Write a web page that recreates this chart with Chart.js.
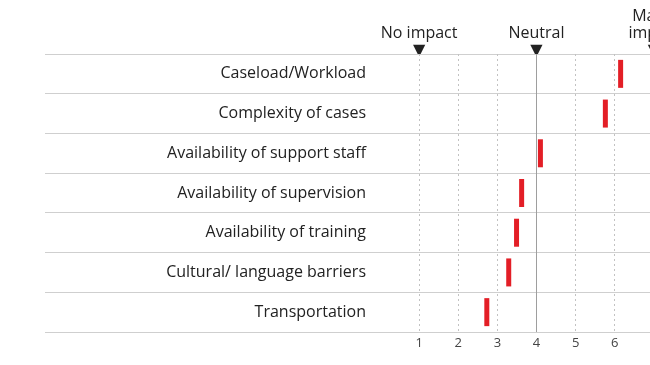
<!DOCTYPE html>
<html>
<head>
<meta charset="utf-8">
<script src="https://cdn.jsdelivr.net/npm/chart.js@4.4.0/dist/chart.umd.min.js"></script>
<style>
html, body { margin: 0; padding: 0; background: #fff; overflow: hidden; }
#wrap { position: relative; width: 712px; height: 365px; }
</style>
</head>
<body>
<div id="wrap"><canvas id="chartImpact"></canvas></div>
<script>
var categories = ['Caseload/Workload', 'Complexity of cases', 'Availability of support staff',
    'Availability of supervision', 'Availability of training', 'Cultural/ language barriers', 'Transportation'];
var scores = [6.15, 5.76, 4.10, 3.62, 3.49, 3.29, 2.73];
var scaleTicks = [1, 2, 3, 4, 5, 6];
var markValues = [1, 4, 7];
var markLabels = [['No impact'], ['Neutral'], ['Major', 'impact']];

var fontFamily = "'Open Sans', 'DejaVu Sans', sans-serif";

function topLabel(v) {
    var i = markValues.indexOf(v);
    if (i < 0) return '';
    return markLabels[i].concat(['\u25BC']);
}

var chart = new Chart(document.getElementById('chartImpact'), {
    type: 'line',
    data: {
        labels: categories,
        datasets: [{
            data: scores,
            showLine: false,
            pointStyle: 'line',
            pointRotation: 90,
            pointRadius: 14,
            pointHoverRadius: 14,
            pointBorderWidth: 5,
            pointHoverBorderWidth: 5,
            pointBorderColor: '#e31e26',
            pointBackgroundColor: '#e31e26',
            xAxisID: 'x',
            yAxisID: 'y'
        }]
    },
    options: {
        indexAxis: 'y',
        responsive: true,
        maintainAspectRatio: false,
        animation: false,
        layout: { padding: 0 },
        plugins: { legend: { display: false }, tooltip: { enabled: false } },
        scales: {
            y: {
                type: 'category',
                offset: true,
                afterFit: function (s) { s.width = 380; },
                grid: { offset: true, color: '#cfcfcf', lineWidth: 1, drawTicks: true, tickLength: 335 },
                border: { display: false },
                ticks: { padding: -321, color: '#222', font: { family: fontFamily, size: 16 } }
            },
            x: {
                type: 'linear',
                position: 'bottom',
                min: 0,
                max: 8,
                afterFit: function (s) { s.height = 33; },
                grid: {
                    drawTicks: false,
                    lineWidth: 1,
                    color: function (c) {
                        var v = c.tick ? c.tick.value : 0;
                        if (v < 1 || v > 6) return 'rgba(0,0,0,0)';
                        return v === 4 ? '#9e9e9e' : '#c2c2c2';
                    }
                },
                border: {
                    display: false,
                    dash: function (c) { return c.tick && c.tick.value === 4 ? [] : [2, 3]; }
                },
                ticks: {
                    stepSize: 1,
                    autoSkip: false,
                    padding: 3,
                    maxRotation: 0,
                    color: '#444',
                    font: { family: fontFamily, size: 13 },
                    callback: function (v) { return scaleTicks.indexOf(v) >= 0 ? String(v) : ''; }
                }
            },
            x2: {
                type: 'linear',
                position: 'top',
                min: 0,
                max: 8,
                afterFit: function (s) { s.height = 54; },
                grid: { display: false, drawTicks: false },
                border: { display: false },
                ticks: {
                    stepSize: 1,
                    autoSkip: false,
                    padding: -5,
                    maxRotation: 0,
                    color: '#222',
                    font: { family: fontFamily, size: 16, lineHeight: '17px' },
                    callback: function (v) { return topLabel(v); }
                }
            }
        }
    }
});
</script>
</body>
</html>
